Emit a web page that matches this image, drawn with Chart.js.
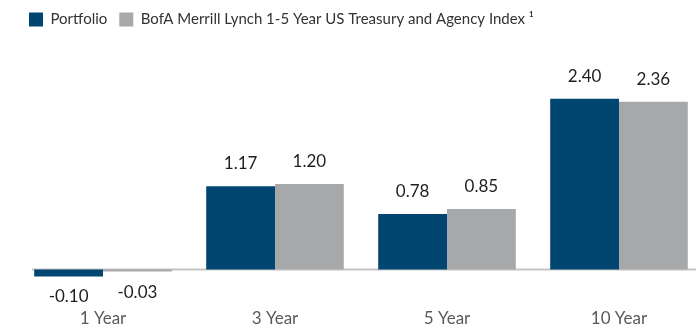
<!DOCTYPE html>
<html>
<head>
<meta charset="utf-8">
<script src="https://cdn.jsdelivr.net/npm/chart.js@4.4.1/dist/chart.umd.min.js"></script>
<style>
  html, body { margin: 0; padding: 0; background: #fff; overflow: hidden; }
  #container { width: 710px; height: 327px; position: relative; }
</style>
</head>
<body>
<div id="container">
  <canvas id="myChart"></canvas>
</div>
<script>
const periods = ['1 Year', '3 Year', '5 Year', '10 Year'];
const portfolio = [-0.10, 1.17, 0.78, 2.40];
const benchmark = [-0.03, 1.20, 0.85, 2.36];
const seriesNames = ['Portfolio', 'BofA Merrill Lynch 1-5 Year US Treasury and Agency Index \u00B9'];

// zero line under the bars
const baseline = {
  id: 'baseline',
  beforeDatasetsDraw(chart) {
    const ctx = chart.ctx;
    const y0 = chart.scales.y.getPixelForValue(0);
    ctx.save();
    ctx.strokeStyle = '#c4c4c4';
    ctx.lineWidth = 2;
    ctx.beginPath();
    ctx.moveTo(chart.chartArea.left + 15, y0);
    ctx.lineTo(chart.width, y0);
    ctx.stroke();
    ctx.restore();
  }
};

// value text above / below each bar
const valueLabels = {
  id: 'valueLabels',
  afterDatasetsDraw(chart) {
    const ctx = chart.ctx;
    ctx.save();
    ctx.font = '17px Lato';
    ctx.fillStyle = '#1e1e1e';
    ctx.textAlign = 'center';
    ctx.textBaseline = 'alphabetic';
    chart.data.datasets.forEach((ds, i) => {
      chart.getDatasetMeta(i).data.forEach((bar, j) => {
        const v = ds.data[j];
        const y = v < 0 ? bar.y + 26 : bar.y - 17;
        ctx.fillText(v.toFixed(2), bar.x, y);
      });
    });
    ctx.restore();
  }
};

const ctx = document.getElementById('myChart').getContext('2d');
new Chart(ctx, {
  type: 'bar',
  data: {
    labels: periods,
    datasets: [
      { label: seriesNames[0], data: portfolio, backgroundColor: '#004670' },
      { label: seriesNames[1], data: benchmark, backgroundColor: '#a7a8aa' }
    ]
  },
  options: {
    responsive: true,
    maintainAspectRatio: false,
    animation: false,
    categoryPercentage: 0.8,
    barPercentage: 1.0,
    layout: { padding: { left: 17, right: 5, top: 0, bottom: -27 } },
    plugins: {
      tooltip: { enabled: false },
      legend: {
        position: 'top',
        align: 'start',
        labels: {
          boxWidth: 14,
          boxHeight: 14,
          padding: 12,
          color: '#333',
          font: { family: 'Lato', size: 15 }
        }
      }
    },
    scales: {
      x: {
        grid: { display: false, drawTicks: false },
        border: { display: false },
        ticks: { color: '#5a5a5a', padding: 25, font: { family: 'Lato', size: 17 } }
      },
      y: {
        display: false,
        min: -0.2,
        max: 3.27
      }
    }
  },
  plugins: [baseline, valueLabels]
});
</script>
</body>
</html>
